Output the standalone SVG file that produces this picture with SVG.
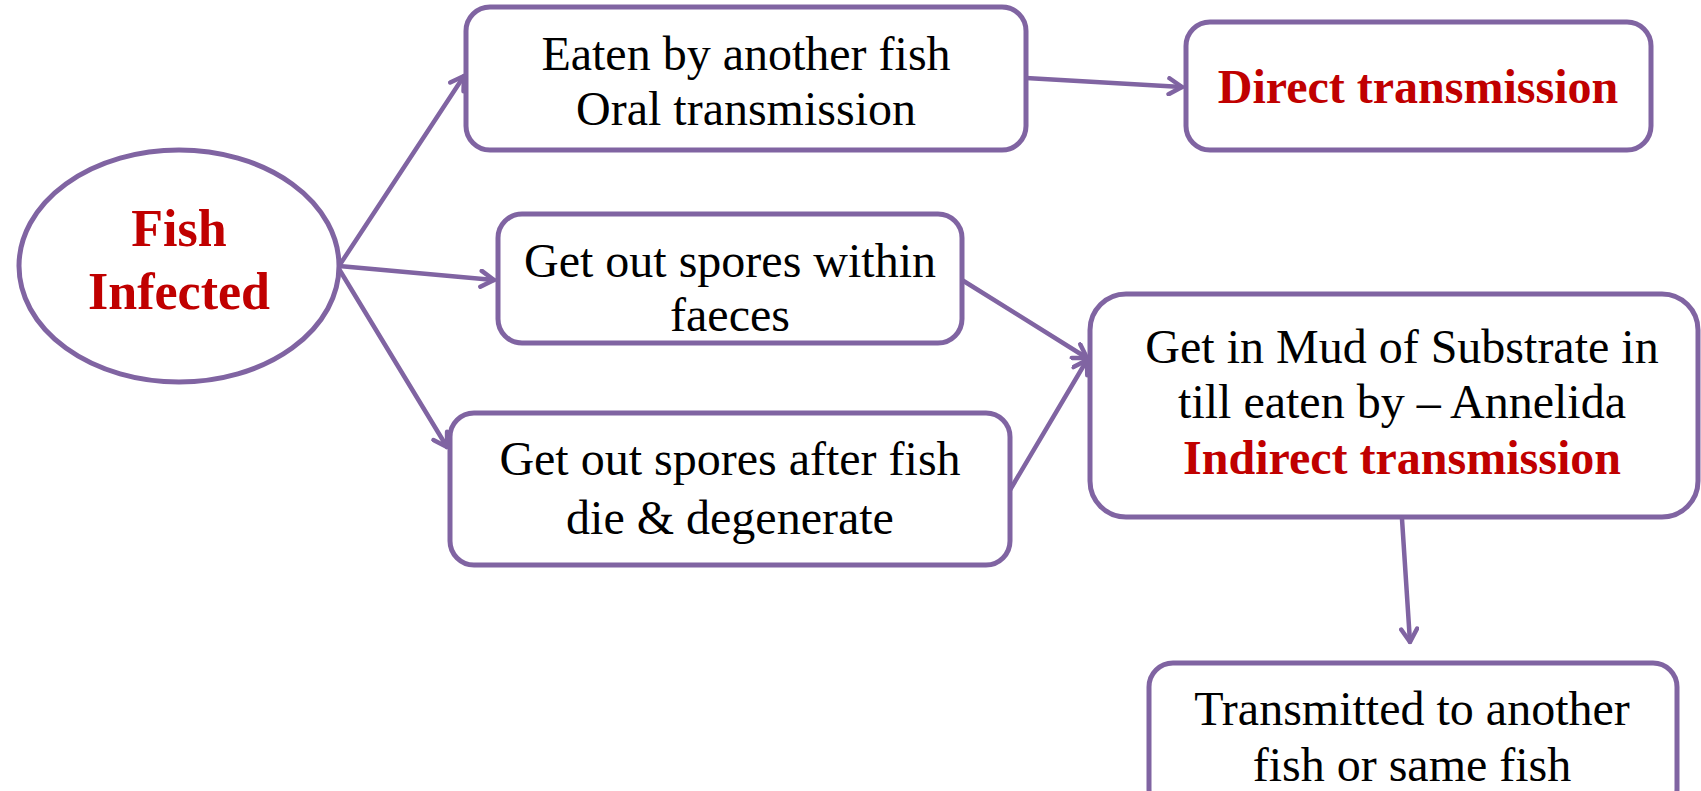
<svg xmlns="http://www.w3.org/2000/svg" width="1701" height="791" viewBox="0 0 1701 791">
<style>
.box{fill:#fff;stroke:#8064A2;stroke-width:5}
.t{font-family:"Liberation Serif","Times New Roman",serif;font-size:48px;fill:#000;text-anchor:middle}
.r{font-weight:bold;fill:#C00000}
.c{stroke:#8064A2;stroke-width:4.5;fill:none;stroke-linecap:round}
</style>
<defs>
<marker id="ah" viewBox="0 0 20 20" refX="18" refY="10" markerWidth="20" markerHeight="20" markerUnits="userSpaceOnUse" orient="auto">
<path d="M5,2 L18,10 L5,18" fill="none" stroke="#8064A2" stroke-width="4.5" stroke-linecap="round" stroke-linejoin="round"/>
</marker>
</defs>
<rect width="1701" height="791" fill="#fff"/>
<g id="connectors">
<line class="c" x1="339" y1="266" x2="464" y2="76" marker-end="url(#ah)"/>
<line class="c" x1="339" y1="266" x2="494" y2="280" marker-end="url(#ah)"/>
<line class="c" x1="339" y1="269" x2="447" y2="447" marker-end="url(#ah)"/>
<line class="c" x1="1026" y1="78" x2="1182" y2="87" marker-end="url(#ah)"/>
<line class="c" x1="962" y1="280" x2="1087" y2="358" marker-end="url(#ah)"/>
<line class="c" x1="1010" y1="490" x2="1087" y2="360" marker-end="url(#ah)"/>
<line class="c" x1="1402" y1="519" x2="1410" y2="642" marker-end="url(#ah)"/>
</g>
<g id="fish-infected">
<ellipse class="box" cx="179" cy="266" rx="160" ry="116"/>
<text class="t r" x="179" y="246" style="font-size:52px">Fish</text>
<text class="t r" x="179" y="309" style="font-size:52px">Infected</text>
</g>
<g id="eaten">
<rect class="box" x="466" y="7" width="560" height="143" rx="24"/>
<text class="t" x="746" y="70">Eaten by another fish</text>
<text class="t" x="746" y="125">Oral transmission</text>
</g>
<g id="direct">
<rect class="box" x="1186" y="22" width="465" height="128" rx="24"/>
<text class="t r" x="1418" y="103">Direct transmission</text>
</g>
<g id="faeces">
<rect class="box" x="498" y="214" width="464" height="129" rx="24"/>
<text class="t" x="730" y="277">Get out spores within</text>
<text class="t" x="730" y="331">faeces</text>
</g>
<g id="die">
<rect class="box" x="450" y="413" width="560" height="152" rx="24"/>
<text class="t" x="730" y="475">Get out spores after fish</text>
<text class="t" x="730" y="534">die &amp; degenerate</text>
</g>
<g id="mud">
<rect class="box" x="1090" y="294" width="608" height="223" rx="36"/>
<text class="t" x="1402" y="363">Get in Mud of Substrate in</text>
<text class="t" x="1402" y="418">till eaten by – Annelida</text>
<text class="t r" x="1402" y="474">Indirect transmission</text>
</g>
<g id="transmitted">
<rect class="box" x="1149" y="663" width="528" height="150" rx="24"/>
<text class="t" x="1412" y="725">Transmitted to another</text>
<text class="t" x="1412" y="781">fish or same fish</text>
</g>
</svg>
